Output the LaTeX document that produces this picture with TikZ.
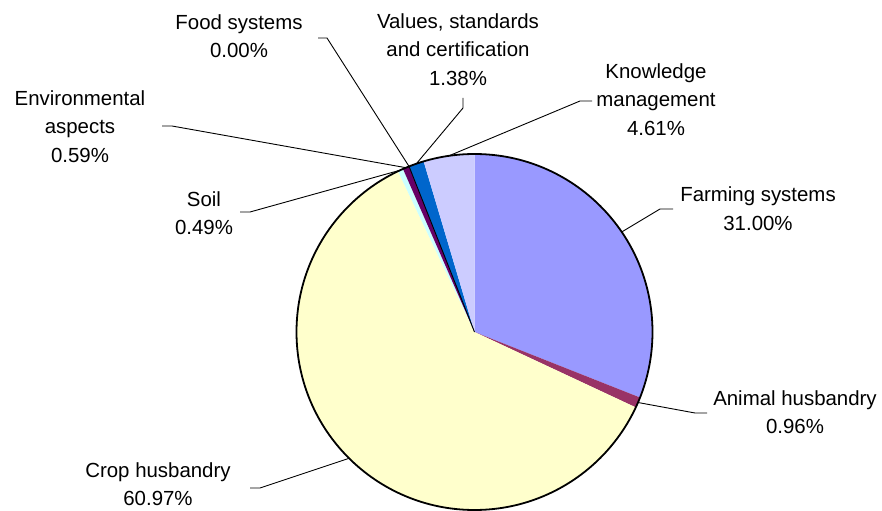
\documentclass[tikz,border=0pt]{standalone}
\usepackage{fontspec}
\setmainfont{Liberation Sans}
\definecolor{cfarm}{HTML}{9999FF}
\definecolor{canimal}{HTML}{993366}
\definecolor{ccrop}{HTML}{FFFFCC}
\definecolor{csoil}{HTML}{CCFFFF}
\definecolor{cenv}{HTML}{660066}
\definecolor{cvalues}{HTML}{0066CC}
\definecolor{cknow}{HTML}{CCCCFF}
\begin{document}
\begin{tikzpicture}[x=1bp,y=-1bp,
  lbl/.style={anchor=north, align=center, inner sep=0pt, font=\fontsize{20.5}{28.5}\selectfont},
  leader/.style={draw=black, line width=0.9bp},
  rim/.style={draw=black, line width=1.8bp}]
\useasboundingbox (0,0) rectangle (882,511);
\begin{scope}[shift={(474.5,332)}]
  \coordinate (c) at (0,0);
  \def\R{178}
  \fill[cfarm]   (c) -- (-90:\R)     arc[start angle=-90,    end angle=21.6,    radius=\R] -- cycle;
  \fill[canimal] (c) -- (21.6:\R)    arc[start angle=21.6,   end angle=25.056,  radius=\R] -- cycle;
  \fill[ccrop]   (c) -- (25.056:\R)  arc[start angle=25.056, end angle=244.548, radius=\R] -- cycle;
  \fill[csoil]   (c) -- (244.548:\R) arc[start angle=244.548,end angle=246.312, radius=\R] -- cycle;
  \fill[cenv]    (c) -- (246.312:\R) arc[start angle=246.312,end angle=248.436, radius=\R] -- cycle;
  \fill[cvalues] (c) -- (248.436:\R) arc[start angle=248.436,end angle=253.404, radius=\R] -- cycle;
  \fill[cknow]   (c) -- (253.404:\R) arc[start angle=253.404,end angle=270,     radius=\R] -- cycle;
  \coordinate (food-s) at (248.436:\R);
  \draw[black, line width=0.9bp] (c) -- (food-s);
  \draw[rim] (c) circle[radius=\R];
  % leader end points on the rim
  \coordinate (farm-e)   at (-34.2:\R);
  \coordinate (animal-e) at (23.33:\R);
  \coordinate (crop-e)   at (134.8:\R);
  \coordinate (soil-e)   at (245.43:\R);
  \coordinate (env-e)    at (247.37:\R);
  \coordinate (food-e)   at (248.436:\R);
  \coordinate (values-e) at (250.92:\R);
  \coordinate (know-e)   at (261.7:\R);
\end{scope}
% labels
\node[lbl] (food)   at (239,9)     {\strut Food systems\\\strut 0.00\%};
\node[lbl] (values) at (458,8.5)   {\strut Values, standards\\\strut and certification\\\strut 1.38\%};
\node[lbl] (know)   at (656,58.5)  {\strut Knowledge\\\strut management\\\strut 4.61\%};
\node[lbl] (env)    at (80,85.5)   {\strut Environmental\\\strut aspects\\\strut 0.59\%};
\node[lbl] (soil)   at (204,186)   {\strut Soil\\\strut 0.49\%};
\node[lbl] (farm)   at (758,181.7) {\strut Farming systems\\\strut 31.00\%};
\node[lbl] (animal) at (795,385)   {\strut Animal husbandry\\\strut 0.96\%};
\node[lbl] (crop)   at (158,457)   {\strut Crop husbandry\\60.97\%};
% leader bends and ends
\coordinate (food-b)   at (327,38);   \coordinate (food-t)   at (318,38);
\coordinate (values-b) at (463,108);  \coordinate (values-t) at (463,98);
\coordinate (know-b)   at (580,101);  \coordinate (know-t)   at (592,101);
\coordinate (env-b)    at (172,126);  \coordinate (env-t)    at (162,126);
\coordinate (soil-b)   at (250,212);  \coordinate (soil-t)   at (240,212);
\coordinate (farm-b)   at (660,209);  \coordinate (farm-t)   at (673,209);
\coordinate (animal-b) at (695,413);  \coordinate (animal-t) at (707,413);
\coordinate (crop-b)   at (260,488);  \coordinate (crop-t)   at (250,488);
\draw[leader] (food-e)   -- (food-b)   -- (food-t);
\draw[leader] (values-e) -- (values-b) -- (values-t);
\draw[leader] (know-e)   -- (know-b)   -- (know-t);
\draw[leader] (env-e)    -- (env-b)    -- (env-t);
\draw[leader] (soil-e)   -- (soil-b)   -- (soil-t);
\draw[leader] (farm-e)   -- (farm-b)   -- (farm-t);
\draw[leader] (animal-e) -- (animal-b) -- (animal-t);
\draw[leader] (crop-e)   -- (crop-b)   -- (crop-t);
\end{tikzpicture}
\end{document}
